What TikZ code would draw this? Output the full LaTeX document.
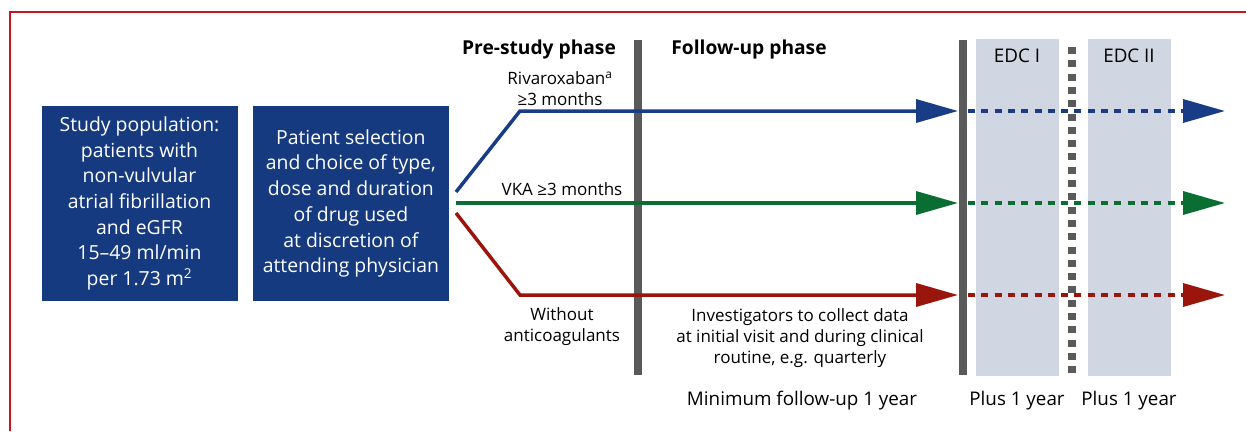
\documentclass[tikz,border=0pt]{standalone}
\usepackage{fontspec}
\setmainfont{Open Sans}
\usetikzlibrary{arrows.meta,positioning,calc}
\definecolor{boxblue}{HTML}{163A80}
\definecolor{lineblue}{HTML}{183C86}
\definecolor{linegreen}{HTML}{0A6E32}
\definecolor{linered}{HTML}{9A160C}
\definecolor{bargray}{HTML}{5A5A5A}
\definecolor{edcfill}{HTML}{D1D6E3}
\definecolor{framered}{HTML}{C4161C}

\begin{document}
\begin{tikzpicture}[x=1pt,y=-1pt,
	box/.style={fill=boxblue,text=white,minimum width=196pt,minimum height=195pt,align=center,inner sep=0pt,font=\fontsize{19.4}{25.7}\selectfont},
	lbl/.style={align=center,font=\fontsize{17}{21}\selectfont},
	big/.style={lbl,font=\fontsize{18.8}{22}\selectfont},
	head/.style={font=\fontsize{19.2}{22}\selectfont\bfseries},
	arm/.style={line width=3.5pt,-{Triangle[length=42pt,width=23pt]}},
	ext/.style={arm,dash pattern=on 7pt off 6.3pt},
	bar/.style={bargray,line width=7.5pt}]
	\useasboundingbox (0,0) rectangle (1246,431);
	\draw[framered,line width=1.3pt] (10,431) -- (10,12) -- (1246,12);
	
	% boxes
	\node[box] (pop) at (139.5,203.5) {Study population:\\patients with\\non-vulvular\\atrial fibrillation\\and eGFR\\15–49 ml/min\\per 1.73 m\textsuperscript{2}};
	\node[box,right=15pt of pop] (sel) {Patient selection\\and choice of type,\\dose and duration\\of drug used\\at discretion of\\attending physician};
	
	% extension periods
	\fill[edcfill] (976,39) rectangle (1059,376);
	\fill[edcfill] (1088,39) rectangle (1171,376);
	\draw[bar] (638,40) -- (638,375);
	\draw[bar] (963,40) -- (963,375);
	\draw[bar,dash pattern=on 7pt off 6.3pt] (1072,47) -- (1072,375);
	
	% branches
	\coordinate (rs) at (456,192);
	\coordinate (gs) at (456,203);
	\coordinate (ds) at (456,213);
	\coordinate (rk) at (520,111);
	\coordinate (dk) at (520,295);
	\coordinate (re) at (958,111);
	\coordinate (ge) at (958,203);
	\coordinate (de) at (958,295);
	\coordinate (rx) at (968,111);
	\coordinate (gx) at (968,203);
	\coordinate (dx) at (968,295);
	\coordinate (rf) at (1225,111);
	\coordinate (gf) at (1225,203);
	\coordinate (df) at (1225,295);
	
	\draw[arm,lineblue] (rs) -- (rk) -- (re);
	\draw[arm,linegreen] (gs) -- (ge);
	\draw[arm,linered] (ds) -- (dk) -- (de);
	\draw[ext,lineblue] (rx) -- (rf);
	\draw[ext,linegreen] (gx) -- (gf);
	\draw[ext,linered] (dx) -- (df);
	
	% labels
	\node[head] (pre) at (539,50) {Pre-study phase};
	\node[head] (fol) at (749,50) {Follow-up phase};
	\node[lbl] (riv) at (560,88.5) {Rivaroxaban\textsuperscript{a}\\≥3 months};
	\node[lbl] (vka) at (562,189) {VKA ≥3 months};
	\node[lbl] (wo) at (562,327) {Without\\anticoagulants};
	\node[lbl] (inv) at (800,338) {Investigators to collect data\\at initial visit and during clinical\\routine, e.g. quarterly};
	\node[big] (min) at (802,401) {Minimum follow-up 1 year};
	\node[big] (p1) at (1017,401) {Plus 1 year};
	\node[big] (p2) at (1129,401) {Plus 1 year};
	\node[big] (e1) at (1017,56) {EDC I};
	\node[big] (e2) at (1129,56) {EDC II};
\end{tikzpicture}
\end{document}
